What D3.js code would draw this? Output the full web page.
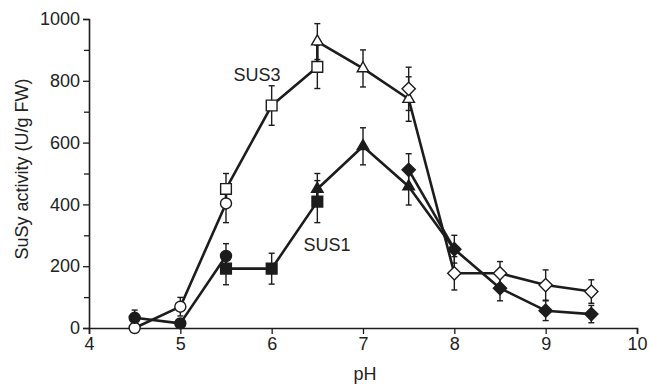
<!DOCTYPE html>
<html><head><meta charset="utf-8">
<script src="https://cdn.jsdelivr.net/npm/d3@7"></script>
<style>body{margin:0;background:#fff}svg{display:block}text{font-family:"Liberation Sans",Arial,sans-serif;fill:#222}</style>
</head><body>
<svg id="c" width="649" height="387"></svg>
<script>
// pH positions for each marker group
const phCircle = [4.5, 5, 5.5];
const phSquare = [5.5, 6, 6.5];
const phTriangle = [6.5, 7, 7.5];
const phDiamond = [7.5, 8, 8.5, 9, 9.5];

// SUS3 (open markers)
const sus3Circle = [0, 69, 403];
const sus3CircleErr = [0, 30, 62];
const sus3Square = [450, 720, 845];
const sus3SquareErr = [50, 64, 70];
const sus3Triangle = [927, 840, 741];
const sus3TriangleErr = [58, 60, 72];
const sus3Diamond = [774, 177, 177, 139, 118];
const sus3DiamondErr = [70, 54, 38, 49, 38];

// SUS1 (filled markers)
const sus1Circle = [33, 15, 233];
const sus1CircleErr = [25, 12, 40];
const sus1Square = [192, 192, 409];
const sus1SquareErr = [52, 50, 68];
const sus1Triangle = [450, 588, 458];
const sus1TriangleErr = [50, 60, 60];
const sus1Diamond = [512, 255, 129, 56, 45];
const sus1DiamondErr = [52, 45, 41, 32, 28];

const xTicks = [4, 5, 6, 7, 8, 9, 10];
const yTicks = [0, 200, 400, 600, 800, 1000];
const yMinorTicks = [100, 300, 500, 700, 900];

const svg = d3.select("#c");
const x = d3.scaleLinear().domain([4, 10]).range([89, 637]);
const y = d3.scaleLinear().domain([0, 1000]).range([328, 19]);
const ink = "#1c1c1c";

function pts(ph, v, e) { return ph.map((p, i) => ({x: p, y: v[i], e: e[i]})); }

const groups = [
  {name: "SUS3", open: true,
   circle: pts(phCircle, sus3Circle, sus3CircleErr),
   square: pts(phSquare, sus3Square, sus3SquareErr),
   triangle: pts(phTriangle, sus3Triangle, sus3TriangleErr),
   diamond: pts(phDiamond, sus3Diamond, sus3DiamondErr),
   diamondOwnLine: false},
  {name: "SUS1", open: false,
   circle: pts(phCircle, sus1Circle, sus1CircleErr),
   square: pts(phSquare, sus1Square, sus1SquareErr),
   triangle: pts(phTriangle, sus1Triangle, sus1TriangleErr),
   diamond: pts(phDiamond, sus1Diamond, sus1DiamondErr),
   diamondOwnLine: true}
];

// axes
const yAxis = svg.append("g").attr("transform", `translate(${x(4)},0)`)
  .call(d3.axisLeft(y).tickValues(yTicks).tickSize(6).tickPadding(3).tickFormat(d3.format("d")));
const yMinor = svg.append("g").attr("transform", `translate(${x(4)},0)`)
  .call(d3.axisLeft(y).tickValues(yMinorTicks).tickSize(5).tickFormat(""));
yMinor.select(".domain").remove();
const xAxis = svg.append("g").attr("transform", `translate(0,${y(0)})`)
  .call(d3.axisBottom(x).tickValues(xTicks).tickSize(6).tickPadding(3).tickFormat(d3.format("d")));
[yAxis, yMinor, xAxis].forEach(g => {
  g.selectAll(".domain").attr("stroke", ink).attr("stroke-width", 1.6);
  g.selectAll(".tick line").attr("stroke", ink).attr("stroke-width", 1.3);
  g.selectAll(".tick text").style("font-size", "18px").attr("fill", "#222");
});

// lines
const line = d3.line().x(d => x(d.x)).y(d => y(d.y));
const gl = svg.append("g");
groups.forEach(g => {
  const main = g.circle.concat(g.square, g.triangle, g.diamond.slice(1));
  gl.append("path").attr("d", line(main)).attr("fill", "none").attr("stroke", ink)
    .attr("stroke-width", 2.6).attr("stroke-linejoin", "round");
  if (g.diamondOwnLine) {
    gl.append("path").attr("d", line(g.diamond.slice(0, 2))).attr("fill", "none").attr("stroke", ink)
      .attr("stroke-width", 2.6);
  }
});

// error bars
const ge = svg.append("g").attr("stroke", ink).attr("stroke-width", 1.4);
groups.forEach(g => {
  ["circle", "square", "triangle", "diamond"].forEach(k => {
    g[k].filter(d => d.e > 0).forEach(d => {
      const cx = x(d.x), y1 = y(d.y + d.e), y2 = y(d.y - d.e);
      ge.append("line").attr("x1", cx).attr("x2", cx).attr("y1", y1).attr("y2", y2);
      ge.append("line").attr("x1", cx - 3).attr("x2", cx + 3).attr("y1", y1).attr("y2", y1);
      ge.append("line").attr("x1", cx - 3).attr("x2", cx + 3).attr("y1", y2).attr("y2", y2);
    });
  });
});

// markers
const shapes = {
  circle: {type: d3.symbolCircle, size: 95, rot: 0},
  square: {type: d3.symbolSquare, size: 115, rot: 0},
  triangle: {type: d3.symbolTriangle, size: 58, rot: 0},
  diamond: {type: d3.symbolSquare, size: 88, rot: 45}
};
const gm = svg.append("g");
groups.forEach(g => {
  ["circle", "square", "triangle", "diamond"].forEach(k => {
    const s = shapes[k];
    gm.selectAll(null).data(g[k]).enter().append("path")
      .attr("d", d3.symbol().type(s.type).size(s.size)())
      .attr("transform", d => `translate(${x(d.x)},${y(d.y)}) rotate(${s.rot})`)
      .attr("fill", g.open ? "#fff" : ink)
      .attr("stroke", ink).attr("stroke-width", 1.4);
  });
});

// labels
svg.append("text").attr("x", 257).attr("y", 81).attr("text-anchor", "middle").style("font-size", "18px").text("SUS3");
svg.append("text").attr("x", 327).attr("y", 251).attr("text-anchor", "middle").style("font-size", "18px").text("SUS1");
svg.append("text").attr("x", 365).attr("y", 380).attr("text-anchor", "middle").style("font-size", "18px").text("pH");
svg.append("text").attr("transform", "translate(28,169) rotate(-90)").attr("text-anchor", "middle")
  .style("font-size", "18px").text("SuSy activity (U/g FW)");
</script>
</body></html>
